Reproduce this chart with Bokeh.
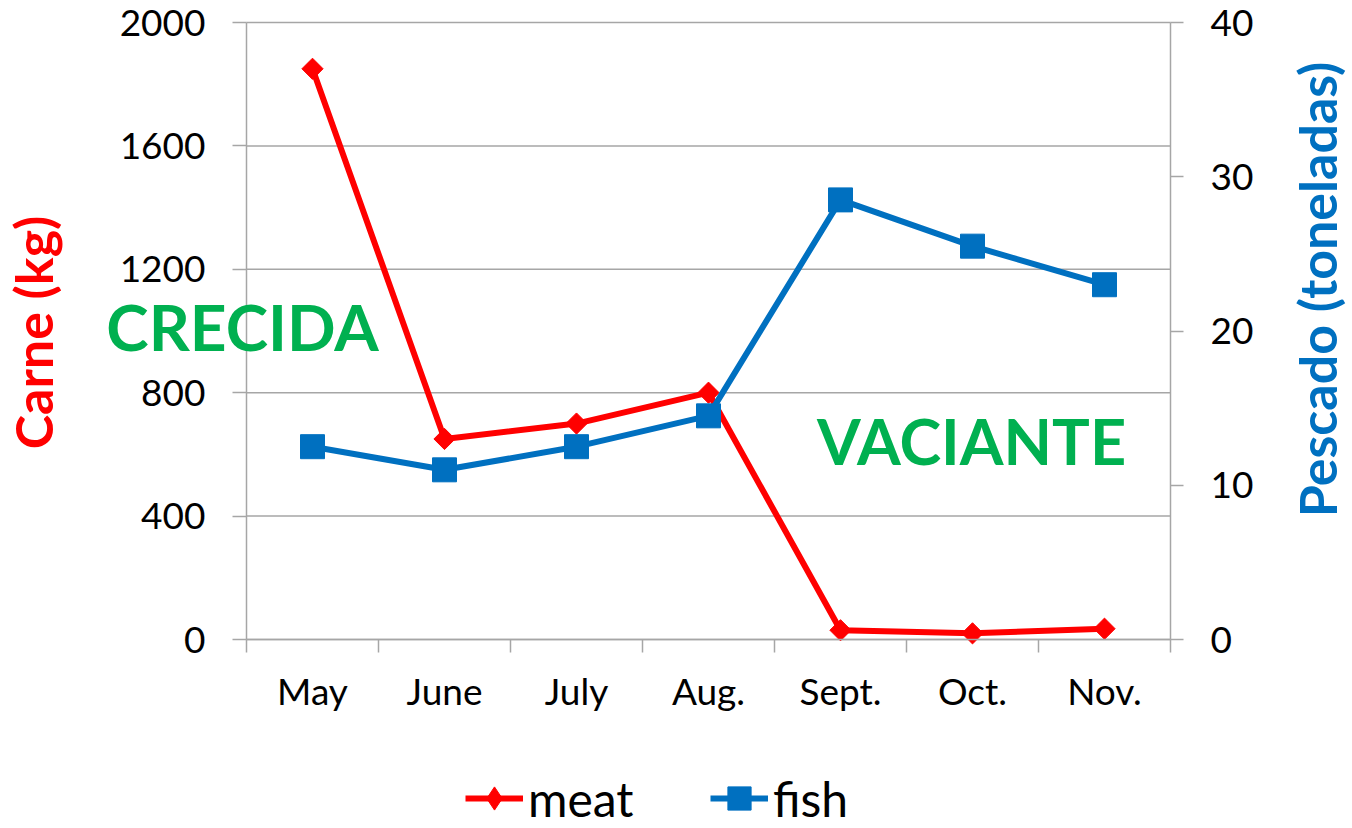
import math
from bokeh.plotting import figure
from bokeh.models import (Range1d, LinearAxis, FixedTicker, CustomJSTickFormatter,
                          Label, Legend, LegendItem, ColumnDataSource)
from bokeh.embed import file_html
from bokeh.resources import INLINE

# ---- data ----
months = ["May", "June", "July", "Aug.", "Sept.", "Oct.", "Nov."]
meat_kg = [1850, 650, 700, 800, 30, 20, 35]
fish_t = [12.5, 11, 12.5, 14.5, 28.5, 25.5, 23]
meat_ticks = [0, 400, 800, 1200, 1600, 2000]
fish_ticks = [0, 10, 20, 30, 40]

FONT = "Lato"
GRID = "#A6A6A6"
RED = "#FF0000"
BLUE = "#0070C0"
GREEN = "#00B050"

# ---- layout (pixels of the canvas) ----
W, H = 1352, 828
PX_L, PX_R, PX_T, PX_B = 246, 1170, 22, 639

n = len(months)
xpos = [i + 0.5 for i in range(n)]
meat_max = max(meat_ticks)
fish_max = max(fish_ticks)

ux = (PX_R - PX_L) / n                 # px per category
uy_m = (PX_B - PX_T) / meat_max        # px per kg
uy_f = (PX_B - PX_T) / fish_max        # px per tonne

x_range = Range1d(-PX_L / ux, (W - PX_L) / ux)
y_range = Range1d(-(H - PX_B) / uy_m, meat_max + PX_T / uy_m)
fish_range = Range1d(-(H - PX_B) / uy_f, fish_max + PX_T / uy_f)

src = ColumnDataSource(dict(x=xpos, meat=meat_kg, fish=fish_t))

p = figure(width=W, height=H, output_backend="svg", toolbar_location=None,
           x_range=x_range, y_range=y_range,
           min_border=0, min_border_left=0, min_border_right=0,
           min_border_top=0, min_border_bottom=0)
p.outline_line_color = None
p.background_fill_color = "white"
p.border_fill_color = "white"
p.extra_y_ranges = {"fish": fish_range}
p.xgrid.visible = False
p.ygrid.visible = False

# horizontal gridlines across the plot area
p.segment(x0=[0] * len(meat_ticks), x1=[n] * len(meat_ticks), y0=meat_ticks, y1=meat_ticks,
          line_color=GRID, line_width=1.5)

# left axis
ya = p.yaxis[0]
ya.fixed_location = 0
ya.bounds = (0, meat_max)
ya.ticker = FixedTicker(ticks=meat_ticks, minor_ticks=[])
ya.axis_line_color = GRID
ya.axis_line_width = 1.5
ya.major_tick_line_color = GRID
ya.major_tick_line_width = 1.5
ya.major_tick_out = 14
ya.major_tick_in = 0
ya.minor_tick_line_color = None
ya.major_label_standoff = 27
ya.major_label_text_font = FONT
ya.major_label_text_font_size = "37px"
ya.major_label_text_color = "black"

# right axis
ra = LinearAxis(y_range_name="fish", ticker=FixedTicker(ticks=fish_ticks, minor_ticks=[]))
ra.fixed_location = n
ra.bounds = (0, fish_max)
ra.axis_line_color = GRID
ra.axis_line_width = 1.5
ra.major_tick_line_color = GRID
ra.major_tick_line_width = 1.5
ra.major_tick_out = 13
ra.major_tick_in = 0
ra.minor_tick_line_color = None
ra.major_label_standoff = 27
ra.major_label_text_font = FONT
ra.major_label_text_font_size = "37px"
ra.major_label_text_color = "black"
p.add_layout(ra, "right")

# bottom axis
xa = p.xaxis[0]
xa.fixed_location = 0
xa.bounds = (0, n)
xa.ticker = FixedTicker(ticks=xpos, minor_ticks=list(range(n + 1)))
xa.formatter = CustomJSTickFormatter(args=dict(labels=months),
                                     code="return labels[Math.floor(tick)];")
xa.major_tick_line_color = None
xa.major_tick_out = 0
xa.major_tick_in = 0
xa.minor_tick_line_color = GRID
xa.minor_tick_line_width = 1.5
xa.minor_tick_out = 13
xa.minor_tick_in = 0
xa.axis_line_color = GRID
xa.axis_line_width = 1.5
xa.major_label_standoff = 15
xa.major_label_text_font = FONT
xa.major_label_text_font_size = "37px"
xa.major_label_text_color = "black"

# series
meat_line = p.line("x", "meat", source=src, line_color=RED, line_width=6, line_join="round")
meat_pts = p.scatter("x", "meat", source=src, marker="square", angle=math.pi / 4, size=15,
                     fill_color=RED, line_color=RED)
fish_line = p.line("x", "fish", source=src, y_range_name="fish", line_color=BLUE,
                   line_width=6, line_join="round")
fish_pts = p.scatter("x", "fish", source=src, y_range_name="fish", marker="square", size=24,
                     fill_color=BLUE, line_color=BLUE)

# legend key for meat: a diamond marker that is only drawn in the legend
meat_key = p.scatter("x", "meat", source=src, marker="diamond", fill_color=RED,
                     line_color=RED, visible=False)

common = dict(orientation="horizontal", label_text_font=FONT, label_text_font_size="48px",
              label_text_color="black", label_standoff=5, spacing=0, padding=0, margin=0,
              border_line_color=None, background_fill_alpha=0)
leg_meat = Legend(items=[LegendItem(label="meat", renderers=[meat_line, meat_key])],
                  location=(465, 0), glyph_width=58, glyph_height=60, **common)
leg_fish = Legend(items=[LegendItem(label="fish", renderers=[fish_line, fish_pts])],
                  location=(710, 0), glyph_width=58, glyph_height=60, **common)
p.add_layout(leg_meat)
p.add_layout(leg_fish)

# axis titles (screen units: pixels from the canvas' bottom-left)
p.add_layout(Label(x=32, y=H - 332, x_units="screen", y_units="screen", text="Carne (kg)",
                   angle=math.pi / 2, text_align="center", text_baseline="alphabetic",
                   text_font=FONT, text_font_style="bold", text_font_size="52px",
                   text_color=RED))
p.add_layout(Label(x=1316, y=H - 289, x_units="screen", y_units="screen",
                   text="Pescado (toneladas)", angle=math.pi / 2, text_align="center",
                   text_baseline="alphabetic", text_font=FONT, text_font_style="bold",
                   text_font_size="52px", text_color=BLUE))

# season annotations
p.add_layout(Label(x=242, y=H - 326, x_units="screen", y_units="screen", text="CRECIDA",
                   text_align="center", text_baseline="alphabetic", text_font=FONT,
                   text_font_style="bold", text_font_size="64px", text_color=GREEN))
p.add_layout(Label(x=971, y=H - 440, x_units="screen", y_units="screen", text="VACIANTE",
                   text_align="center", text_baseline="alphabetic", text_font=FONT,
                   text_font_style="bold", text_font_size="63px", text_color=GREEN))

open("out.html", "w").write(file_html(p, INLINE))
